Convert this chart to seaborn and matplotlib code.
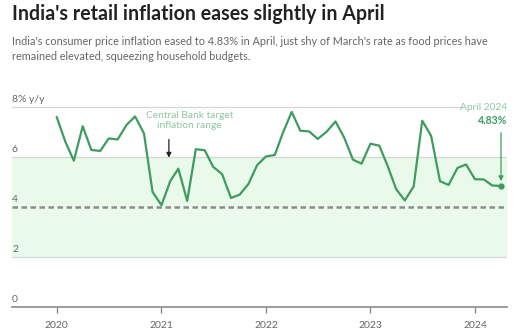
import matplotlib
matplotlib.use("Agg")
import matplotlib.pyplot as plt
import numpy as np
import pandas as pd
import seaborn as sns

# Monthly CPI inflation, year on year (%), Jan 2020 - Apr 2024
months = pd.date_range("2020-01-01", "2024-04-01", freq="MS")
cpi_2020 = [7.59, 6.58, 5.84, 7.22, 6.27, 6.23, 6.73, 6.69, 7.27, 7.61, 6.93, 4.59]
cpi_2021 = [4.06, 5.03, 5.52, 4.23, 6.30, 6.26, 5.59, 5.30, 4.35, 4.48, 4.91, 5.66]
cpi_2022 = [6.01, 6.07, 6.95, 7.79, 7.04, 7.01, 6.71, 7.00, 7.41, 6.77, 5.88, 5.72]
cpi_2023 = [6.52, 6.44, 5.66, 4.70, 4.25, 4.81, 7.44, 6.83, 5.02, 4.87, 5.55, 5.69]
cpi_2024 = [5.10, 5.09, 4.85, 4.83]
inflation = cpi_2020 + cpi_2021 + cpi_2022 + cpi_2023 + cpi_2024

target_low, target_mid, target_high = 2, 4, 6
y_ticks = [0, 2, 4, 6, 8]
y_tick_labels = ["0", "2", "4", "6", "8% y/y"]
year_ticks = [2020, 2021, 2022, 2023, 2024]

df = pd.DataFrame({"month": months, "inflation": inflation})

sns.set_theme(style="white")
plt.rcParams["font.family"] = ["Lato", "DejaVu Sans"]

GREEN = "#3d9c5e"
LIGHT_GREEN_TXT = "#8ec79f"
GRAY_TXT = "#666666"
GRID = "#d6d6d6"

fig = plt.figure(figsize=(5.25, 3.31), dpi=100)
ax = fig.add_axes([12 / 525, 24.3 / 331, 495 / 525, 200 / 331])

# target band and midpoint
ax.axhspan(target_low, target_high, color="#eafaea", zorder=0, lw=0)
for yv in (target_low, target_high):
    ax.axhline(yv, color=GRID, lw=0.9, zorder=1)
ax.axhline(target_mid, color="#8c8c8c", lw=1.8, ls=(0, (2.2, 1.4)), zorder=1)

sns.lineplot(data=df, x="month", y="inflation", ax=ax, color=GREEN, lw=1.6,
             zorder=3, clip_on=False)
ax.plot(df["month"].iloc[-1], df["inflation"].iloc[-1], "o", color=GREEN,
        ms=3.5, zorder=4, clip_on=False)

x0 = pd.Timestamp("2019-07-29")
x1 = pd.Timestamp("2024-04-22")
ax.set_xlim(x0, x1)
ax.set_ylim(0, 8)

# top gridline stops short of the latest-value label
ax.plot([x0, pd.Timestamp("2023-11-20")], [8, 8], color=GRID, lw=0.9,
        zorder=1, clip_on=False)

for s in ("top", "right", "left"):
    ax.spines[s].set_visible(False)
ax.spines["bottom"].set_color("#8a8a8a")
ax.spines["bottom"].set_linewidth(1.2)

ax.set_yticks([])
for yv, lab in zip(y_ticks, y_tick_labels):
    ax.text(x0, yv + 0.12, lab, fontsize=7.5, color=GRAY_TXT, ha="left",
            va="bottom")

ax.set_xticks([pd.Timestamp(f"{y}-01-01") for y in year_ticks])
ax.set_xticklabels([str(y) for y in year_ticks], fontsize=7.5, color=GRAY_TXT)
ax.tick_params(axis="x", direction="out", length=4, width=1, color="#8a8a8a",
               pad=6, bottom=True)
ax.set_xlabel("")
ax.set_ylabel("")

# band annotation
arrow_x = pd.Timestamp("2021-01-27")
label_x = pd.Timestamp("2021-04-10")
ax.text(label_x, 7.45, "Central Bank target\ninflation range", fontsize=7.3,
        color=LIGHT_GREEN_TXT, ha="center", va="center", linespacing=1.1)
ax.annotate("", xy=(arrow_x, 5.85), xytext=(arrow_x, 6.8),
            arrowprops=dict(arrowstyle="-|>", color="#222222", lw=0.9,
                            mutation_scale=7))

# latest value annotation
last_x = df["month"].iloc[-1]
ax.text(x1, 7.97, "April 2024", fontsize=7.3, color=LIGHT_GREEN_TXT, ha="right",
        va="center")
ax.text(x1, 7.44, f"{inflation[-1]:.2f}%", fontsize=7.6, color=GREEN,
        ha="right", va="center", fontweight="bold")
ax.annotate("", xy=(last_x, inflation[-1] + 0.08), xytext=(last_x, 7.07),
            arrowprops=dict(arrowstyle="-|>", color=GREEN, lw=0.9,
                            mutation_scale=7))

fig.text(12 / 525, 1 - 14 / 331, "India's retail inflation eases slightly in April",
         fontsize=14.1, fontweight="bold", color="#222222", ha="left", va="center")
fig.text(12 / 525, 1 - 49 / 331,
         "India's consumer price inflation eased to 4.83% in April, just shy of March's rate as food prices have\nremained elevated, squeezing household budgets.",
         fontsize=7.8, color="#666666", ha="left", va="center", linespacing=1.45)

fig.savefig("out.png", dpi=100)
